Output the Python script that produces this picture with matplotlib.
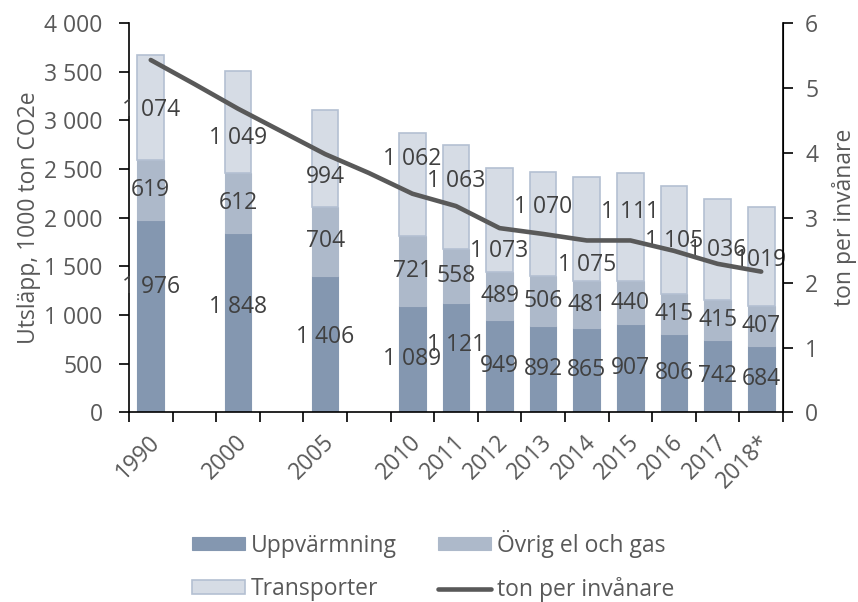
import matplotlib.pyplot as plt
from matplotlib.ticker import FuncFormatter
import numpy as np

plt.rcParams['font.family'] = ['Open Sans', 'DejaVu Sans']

# categories (blank slots keep the gaps between 1990, 2000, 2005 and 2010)
years = ['1990', '', '2000', '', '2005', '', '2010', '2011', '2012',
         '2013', '2014', '2015', '2016', '2017', '2018*']
bar_years = ['1990', '2000', '2005', '2010', '2011', '2012', '2013',
             '2014', '2015', '2016', '2017', '2018*']
uppvarmning = [1976, 1848, 1406, 1089, 1121, 949, 892, 865, 907, 806, 742, 684]
ovrig = [619, 612, 704, 721, 558, 489, 506, 481, 440, 415, 415, 407]
transporter = [1074, 1049, 994, 1062, 1063, 1073, 1070, 1075, 1111, 1105, 1036, 1019]
# ton per invånare, one value per category slot
per_capita = [5.43, 5.06, 4.68, 4.33, 3.98, 3.69, 3.37, 3.18, 2.84,
              2.75, 2.65, 2.65, 2.49, 2.29, 2.17]

# vertical nudges (pixels, + = down) of the data labels, as placed in the original
nudge_bottom = [-29, -16, -7, 0, -13, 0, 0, 0, 0, 0, 0, 0]
nudge_top = [2, 16, 18, -26, -16, 31, -17, 36, -15, 1, 1, 3]

grey = '#595959'
c1, c2, c3 = '#8497b0', '#adb9ca', '#d6dce5'
fs = 16.5

fig = plt.figure(figsize=(8.58, 6.02), dpi=100)
ax = fig.add_axes([0.1503, 0.3148, 0.7623, 0.647])
ax2 = ax.twinx()

x = np.array([years.index(y) for y in bar_years])
w = 0.61
b1 = ax.bar(x, uppvarmning, w, color=c1, edgecolor=c1, lw=0.8, zorder=2)
bot2 = np.array(uppvarmning)
b2 = ax.bar(x, ovrig, w, bottom=bot2, color=c2, edgecolor=c2, lw=0.8, zorder=2)
bot3 = bot2 + np.array(ovrig)
b3 = ax.bar(x, transporter, w, bottom=bot3, color=c3, edgecolor='#b4c0d2', lw=1.2, zorder=2)

def fmt(v):
    return f'{v:,}'.replace(',', ' ')

top_text = [fmt(v) for v in transporter]
top_text[-1] = '1019'

groups = [
    (uppvarmning, np.zeros(len(x)), [fmt(v) for v in uppvarmning], nudge_bottom),
    (ovrig, bot2, [fmt(v) for v in ovrig], [0] * len(x)),
    (transporter, bot3, top_text, nudge_top),
]
for vals, bots, texts, nudges in groups:
    for xi, v, b, t, n in zip(x, vals, bots, texts, nudges):
        ax.annotate(t, xy=(xi, b + v / 2), xytext=(0, -n * 0.72), textcoords='offset points',
                    ha='center', va='center', fontsize=fs, color='#404040', zorder=5)

ln, = ax2.plot(np.arange(len(years)), per_capita, color=grey, lw=3.3, solid_capstyle='round', zorder=4)

ax.set_xlim(-0.5, len(years) - 0.5)
ax.set_ylim(0, 4000)
ax2.set_ylim(0, 6)
ax.set_yticks(range(0, 4001, 500))
ax.yaxis.set_major_formatter(FuncFormatter(lambda v, p: fmt(int(v))))
ax2.set_yticks(range(0, 7))

ax.set_xticks(np.arange(len(years)))
ax.set_xticklabels([])
ax.set_xticks(np.arange(len(years) + 1) - 0.5, minor=True)
ax.tick_params(axis='x', which='major', length=0)
ax.tick_params(axis='x', which='minor', length=7, width=1.2, color='black', direction='out')
for xi, lab in enumerate(years):
    if lab:
        ax.annotate(lab, xy=(xi, 0), xycoords=('data', 'axes fraction'), xytext=(4, -19),
                    textcoords='offset points', rotation=45, ha='right', va='center',
                    rotation_mode='anchor', fontsize=fs, color=grey)

for a in (ax, ax2):
    a.spines['top'].set_visible(False)
    a.tick_params(axis='y', length=7, width=1.2, color='black', labelsize=fs, labelcolor=grey)
ax.tick_params(axis='y', pad=12)
ax2.tick_params(axis='y', pad=9)
ax.spines['left'].set_linewidth(1.2)
ax.spines['bottom'].set_linewidth(1.2)
ax2.spines['right'].set_linewidth(1.2)
ax2.spines['left'].set_visible(False)
ax2.spines['bottom'].set_visible(False)
ax.set_zorder(ax2.get_zorder() - 1)
ax2.patch.set_visible(False)
ax.patch.set_visible(False)

ax.set_ylabel('Utsläpp, 1000 ton CO2e', fontsize=fs, color=grey, labelpad=2)
ax2.set_ylabel('ton per invånare', fontsize=fs, color=grey, labelpad=10)

fig.legend([b1, b3, b2, ln], ['Uppvärmning', 'Transporter', 'Övrig el och gas', 'ton per invånare'],
           loc='center', bbox_to_anchor=(0.5047, 0.06), ncol=2, frameon=False,
           fontsize=fs, labelcolor=grey, handlelength=2.3, handleheight=0.5,
           labelspacing=0.85, columnspacing=1.8, handletextpad=0.26, borderpad=0)

fig.savefig('out.png', dpi=100)
